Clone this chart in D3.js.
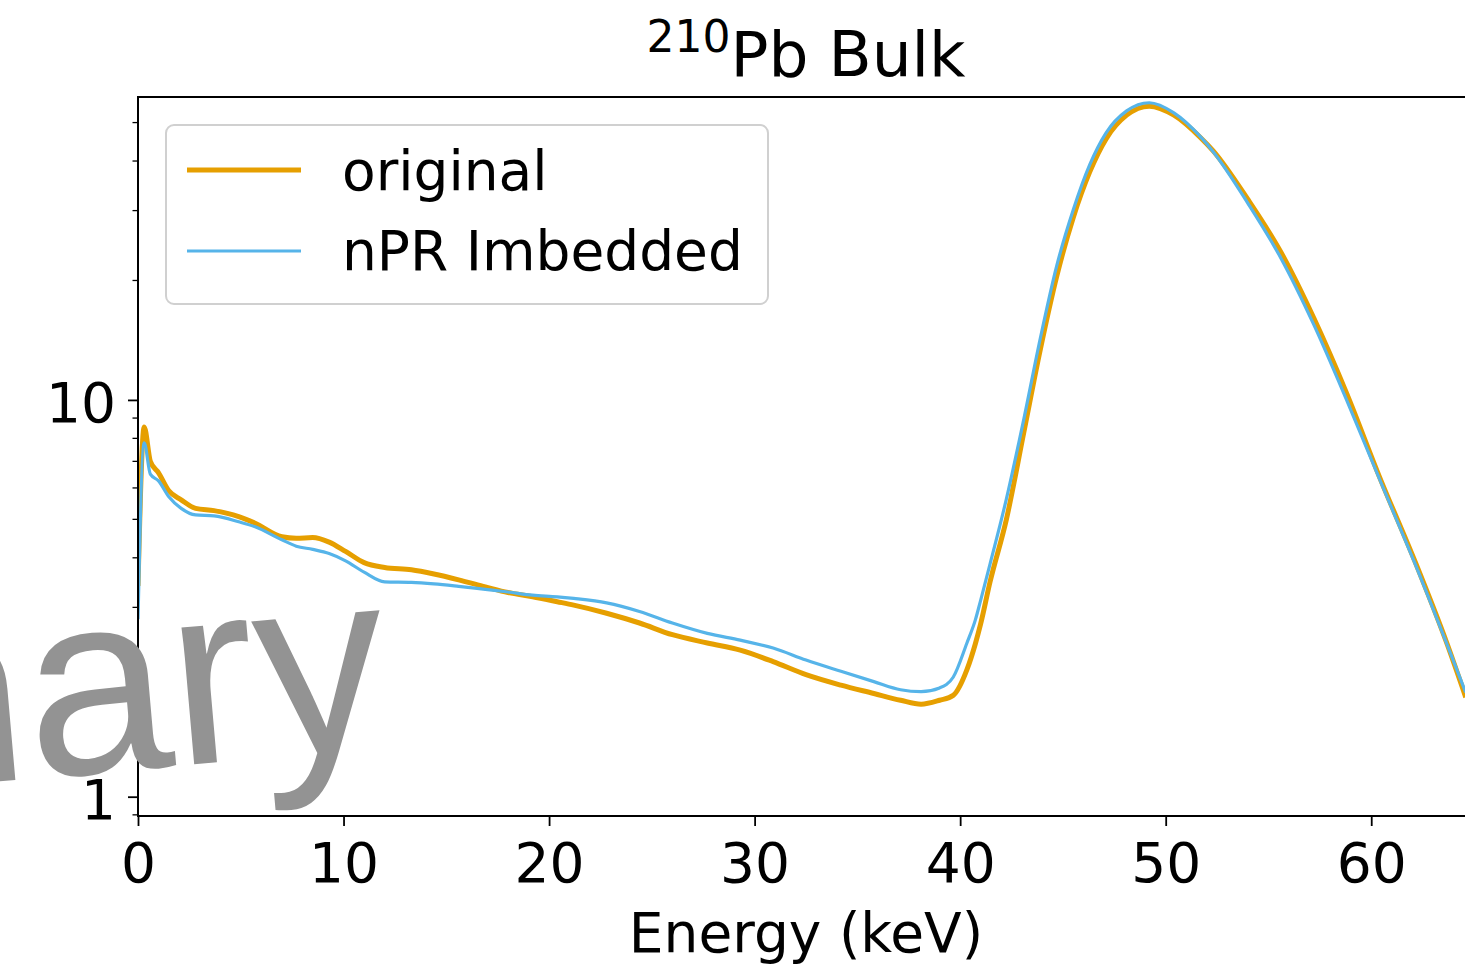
<!DOCTYPE html>
<html><head><meta charset="utf-8">
<script src="https://cdn.jsdelivr.net/npm/d3@7"></script>
<style>body{margin:0;background:#fff;} svg{display:block;}</style>
</head><body>
<svg id="c" width="1465" height="968"></svg>
<script>
const energy = [0, 0.3, 0.6, 1.0, 1.5, 2.1, 2.8, 3.7, 4.9, 5.7, 7.0, 7.7, 8.5, 9.3, 10.1, 11.0, 12.0, 13.3, 14.4, 15.6, 16.9, 18.0, 19.2, 20.4, 21.2, 22.8, 24.4, 26.0, 27.7, 29.3, 30.9, 32.5, 34.2, 35.8, 37.1, 38.1, 39.0, 39.66, 40.33, 40.74, 41.0, 41.45, 42.25, 43.1, 43.9, 44.7, 45.5, 46.3, 47.1, 48.1, 49.2, 50.4, 51.7, 52.3, 54.0, 55.6, 57.2, 58.8, 60.4, 62.1, 63.7, 64.6];
const original = [3.4, 8.55, 7.0, 6.55, 5.9, 5.6, 5.33, 5.26, 5.08, 4.89, 4.52, 4.48, 4.5, 4.38, 4.15, 3.89, 3.78, 3.73, 3.64, 3.52, 3.38, 3.27, 3.19, 3.10, 3.04, 2.90, 2.74, 2.56, 2.44, 2.34, 2.19, 2.03, 1.91, 1.82, 1.75, 1.71, 1.75, 1.80, 2.09, 2.43, 2.73, 3.47, 5.0, 8.3, 13.4, 20.5, 28.8, 37.5, 45.5, 52.2, 55.0, 52.2, 45.8, 42.5, 32.0, 23.6, 16.1, 10.4, 6.4, 3.95, 2.42, 1.78];
const nprImbedded = [2.8, 7.8, 6.5, 6.25, 5.7, 5.33, 5.13, 5.10, 4.93, 4.79, 4.44, 4.28, 4.2, 4.1, 3.93, 3.68, 3.48, 3.47, 3.44, 3.39, 3.33, 3.28, 3.22, 3.19, 3.16, 3.08, 2.93, 2.74, 2.58, 2.48, 2.37, 2.21, 2.07, 1.95, 1.86, 1.84, 1.88, 2.00, 2.44, 2.79, 3.13, 3.85, 5.63, 8.96, 14.3, 21.8, 30.1, 39.1, 47.1, 53.5, 56.1, 52.9, 46.0, 42.3, 31.3, 22.8, 15.5, 10.0, 6.32, 3.90, 2.41, 1.83];
const seriesNames = ["original", "nPR Imbedded"];
const seriesColors = ["#E69F00", "#56B4E9"];
const xTicks = [0, 10, 20, 30, 40, 50, 60];
const yTicks = [1, 10];
const yMinorTicks = [0.9, 2, 3, 4, 5, 6, 7, 8, 9, 20, 30, 40, 50];
const xDomain = [0, 65];
const yDomain = [0.894, 58];

const L = 138, R = 1474, T = 97, B = 816;
const FONT = "'DejaVu Sans', sans-serif";
const svg = d3.select("#c");
const x = d3.scaleLinear().domain(xDomain).range([L, R]);
const y = d3.scaleLog().domain(yDomain).range([B, T]);

svg.append("defs").append("clipPath").attr("id", "clip")
  .append("rect").attr("x", L).attr("y", T).attr("width", R - L).attr("height", B - T);

// series
const series = [
  {name: seriesNames[0], vals: original, color: seriesColors[0], w: 5},
  {name: seriesNames[1], vals: nprImbedded, color: seriesColors[1], w: 3.2}
];
const line = d3.line().x(d => x(d[0])).y(d => y(d[1])).curve(d3.curveMonotoneX);
const g = svg.append("g").attr("clip-path", "url(#clip)");
series.forEach(s => {
  g.append("path").datum(energy.map((e, i) => [e, s.vals[i]]))
    .attr("d", line).attr("fill", "none").attr("stroke", s.color)
    .attr("stroke-width", s.w).attr("stroke-linejoin", "round");
});

// axes
const xAxis = d3.axisBottom(x).tickValues(xTicks).tickSize(10).tickPadding(17).tickFormat(d3.format("d"));
const gx = svg.append("g").attr("transform", `translate(0,${B})`).call(xAxis);
const yAxis = d3.axisLeft(y).tickValues(yTicks).tickSize(10).tickPadding(12).tickFormat(d3.format("d"));
const gy = svg.append("g").attr("transform", `translate(${L},0)`).call(yAxis);
[gx, gy].forEach(a => {
  a.select(".domain").remove();
  a.selectAll(".tick line").attr("stroke", "#000").attr("stroke-width", 1.8);
  a.selectAll(".tick text").attr("fill", "#000").style("font-family", FONT).style("font-size", "55px");
});
gy.selectAll(".tick text").attr("dy", "0.39em");
gy.selectAll(".minor").data(yMinorTicks.filter(v => y(v) <= B + 1 && y(v) >= T)).enter()
  .append("line").attr("x1", -5.5).attr("x2", 0)
  .attr("y1", d => y(d)).attr("y2", d => y(d))
  .attr("stroke", "#000").attr("stroke-width", 1.3);

// spines
const sp = svg.append("g").attr("stroke", "#000").attr("stroke-width", 2).attr("fill", "none");
sp.append("line").attr("x1", L).attr("x2", L).attr("y1", T - 1).attr("y2", B + 1);
sp.append("line").attr("x1", L - 1).attr("x2", R).attr("y1", B).attr("y2", B);
sp.append("line").attr("x1", L - 1).attr("x2", R).attr("y1", T).attr("y2", T);
sp.append("line").attr("x1", R).attr("x2", R).attr("y1", T).attr("y2", B);

// axis label
svg.append("text").attr("x", (L + R) / 2).attr("y", 952).attr("text-anchor", "middle")
  .style("font-family", FONT).style("font-size", "55px").attr("fill", "#000").text("Energy (keV)");

// title
const title = svg.append("text").attr("x", (L + R) / 2).attr("y", 76).attr("text-anchor", "middle")
  .style("font-family", FONT).attr("fill", "#000");
title.append("tspan").style("font-size", "44px").attr("dy", -24).text("210");
title.append("tspan").style("font-size", "63px").attr("dy", 24).text("Pb Bulk");

// legend
const lg = svg.append("g");
lg.append("rect").attr("x", 166).attr("y", 125).attr("width", 602).attr("height", 179).attr("rx", 8)
  .attr("fill", "#fff").attr("fill-opacity", 0.8).attr("stroke", "#d0d0d0").attr("stroke-width", 2);
const rowY = [170, 251], baseY = [190, 270];
series.forEach((s, i) => {
  lg.append("line").attr("x1", 187).attr("x2", 301).attr("y1", rowY[i]).attr("y2", rowY[i])
    .attr("stroke", s.color).attr("stroke-width", s.w);
  lg.append("text").attr("x", 342).attr("y", baseY[i]).style("font-family", FONT)
    .style("font-size", "55px").attr("fill", "#000").text(s.name);
});

// watermark
svg.append("text").attr("transform", "translate(392,747) rotate(-5)").attr("text-anchor", "end")
  .style("font-family", "'Liberation Sans', Arial, sans-serif").style("font-size", "260px")
  .attr("fill", "#939393").text("Preliminary");
</script>
</body></html>
